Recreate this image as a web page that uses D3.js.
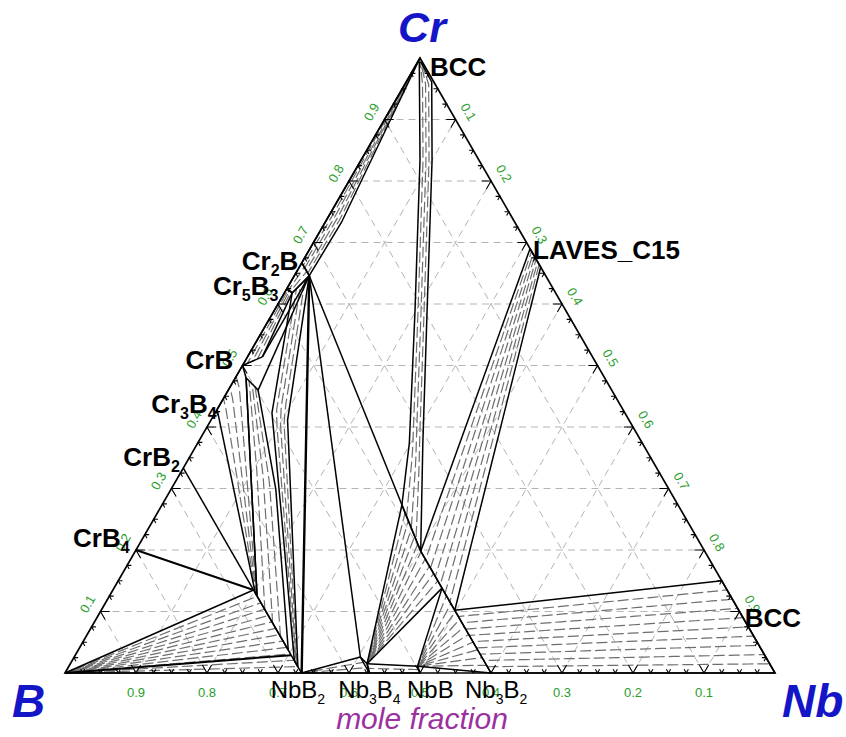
<!DOCTYPE html>
<html>
<head>
<meta charset="utf-8">
<title>Cr-Nb-B section</title>
<script src="https://cdn.jsdelivr.net/npm/d3@7/dist/d3.min.js"></script>
<style>
  body { margin: 0; background: #fff; }
  svg { display: block; font-family: "Liberation Sans", Arial, sans-serif; }
</style>
</head>
<body>
<svg id="chart" width="846" height="737"></svg>
<script>
// every composition is [xCr, xNb]; xB = 1 - xCr - xNb

const gridValues = [0.1, 0.2, 0.3, 0.4, 0.5, 0.6, 0.7, 0.8, 0.9];
const gridLabels = ['0.1', '0.2', '0.3', '0.4', '0.5', '0.6', '0.7', '0.8', '0.9'];
const minorStep = 0.025;

// binary borides on the B-Cr edge (xCr) and on the B-Nb edge (xNb)
const crBorides = ['Cr{2}B', 'Cr{5}B{3}', 'CrB', 'Cr{3}B{4}', 'CrB{2}', 'CrB{4}'];
const crBorideXCr = [0.667, 0.625, 0.5, 0.4286, 0.3333, 0.2];
const nbBorides = ['NbB{2}', 'Nb{3}B{4}', 'NbB', 'Nb{3}B{2}'];
const nbBorideXNb = [0.3333, 0.4286, 0.5, 0.6];

// metal side phases
const metalPhases = ['BCC', 'LAVES_C15', 'BCC'];
const metalPhaseComp = [[1, 0], [0.69, 0.31], [0.15, 0.85]];

// phase boundaries
const crCorner = [1, 0];
const bCorner = [0, 0];
const nbCorner = [0, 1];
const cr2bSS = [0.646, 0.021];
const crBandMid = [0.733, 0.023];
const sliverLeft = [[0.994, 0.002], [0.834, 0.083], [0.590, 0.198], [0.374, 0.298], [0.273, 0.338]];
const sliverRight = [[0.992, 0.006], [0.961, 0.036], [0.834, 0.100], [0.590, 0.215], [0.374, 0.317], [0.198, 0.402]];
const lavesSS = [[0.69, 0.31], [0.66, 0.34]];
const m3b2SS = [[0.198, 0.402], [0.138, 0.462], [0.102, 0.498], [0, 0.6]];
const mb2SS = [[0.135, 0.198], [0.130, 0.203], [0.125, 0.208], [0.037, 0.296], [0.029, 0.304], [0.020, 0.313], [0.010, 0.323], [0, 0.3333]];
const nb3b4SS = [[0.026, 0.403], [0.015, 0.418], [0, 0.4286]];
const nbbSS = [[0.011, 0.491], [0, 0.5]];
const crbInner = [[0.514, 0.021], [0.480, 0.015], [0.460, 0.042], [0.298, 0.148]];
const cr5b3Inner = [[0.618, 0.011], [0.423, 0.080], [0.249, 0.181], [0.411, 0.108]];

const crEdge = crBorideXCr.map(v => [v, 0]);
const nbEdge = nbBorideXNb.map(v => [0, v]);

// two-phase regions: tie lines run between boundary L and boundary R
const bands = [
  { L: [crCorner, crEdge[0]], R: [crCorner, crBandMid, cr2bSS], n: 4 },
  { L: sliverLeft, R: sliverRight, n: 3 },
  { L: [lavesSS[0], m3b2SS[0]], R: [lavesSS[1], m3b2SS[2]], n: 6 },
  { L: [m3b2SS[2], metalPhaseComp[2]], R: [m3b2SS[3], nbCorner], n: 9 },
  { L: [nbEdge[0], nb3b4SS[0]], R: [nbEdge[0], nb3b4SS[2]], n: 2 },
  { L: [nb3b4SS[1], nbbSS[0]], R: [nb3b4SS[2], nbbSS[1]], n: 1 },
  { L: [crEdge[3], mb2SS[1]], R: [crEdge[2], crbInner[1], mb2SS[2]], n: 3 },
  { L: [crbInner[1], mb2SS[2]], R: [crbInner[2], crbInner[3], mb2SS[3]], n: 3 },
  { L: [cr5b3Inner[0], cr5b3Inner[1], cr5b3Inner[2], mb2SS[5]], R: [cr2bSS, cr5b3Inner[3], mb2SS[6]], n: 3 },
  { L: [crEdge[2], crEdge[1]], R: [crbInner[0], cr5b3Inner[0]], n: 3 },
  { L: [crEdge[1], crEdge[0]], R: [cr5b3Inner[0], cr2bSS], n: 2 }
];

// tie-line fans from one phase to a boundary
const fans = [
  { c: bCorner, to: [mb2SS[0], nbEdge[0]], n: 12 },
  { c: nbbSS[0], to: [m3b2SS[1], m3b2SS[3]], n: 10 },
  { c: nb3b4SS[1], to: [sliverLeft[4], m3b2SS[0], m3b2SS[1]], n: 10 }
];

const boundaries = [
  { p: [cr2bSS, nbEdge[0]], w: 2.4 },
  { p: [cr2bSS, nb3b4SS[0]] },
  { p: [cr2bSS, m3b2SS[0]] },
  { p: m3b2SS },
  { p: mb2SS },
  { p: [crEdge[5], mb2SS[0]], w: 2 },
  { p: [crEdge[4], mb2SS[0]] },
  { p: [bCorner, mb2SS[4]], w: 2 },
  { p: nb3b4SS },
  { p: nbbSS },
  { p: [cr2bSS, crbInner[0]] },
  { p: [cr2bSS, crbInner[2]] }
];

// ternary projection through two linear scales
const sx = d3.scaleLinear().domain([0, 1]).range([65, 775]);
const sy = d3.scaleLinear().domain([0, 1]).range([673, 58]);
const P = c => [sx(c[1] + c[0] / 2), sy(c[0])];
const line = d3.line();

function resample(poly, m) {
  const pts = poly.map(P);
  const cum = [0];
  for (let i = 1; i < pts.length; i++) {
    cum.push(cum[i - 1] + Math.hypot(pts[i][0] - pts[i - 1][0], pts[i][1] - pts[i - 1][1]));
  }
  const total = cum[cum.length - 1];
  const out = [];
  for (let k = 0; k <= m; k++) {
    const s = total * k / m;
    let j = 1;
    while (j < pts.length - 1 && cum[j] < s) j++;
    const segLen = (cum[j] - cum[j - 1]) || 1;
    const u = Math.min(1, (s - cum[j - 1]) / segLen);
    out.push([pts[j - 1][0] + (pts[j][0] - pts[j - 1][0]) * u,
              pts[j - 1][1] + (pts[j][1] - pts[j - 1][1]) * u]);
  }
  return out;
}

const svg = d3.select('#chart');

// dashed composition grid
const gGrid = svg.append('g')
  .attr('fill', 'none')
  .attr('stroke', '#b4b4b4')
  .attr('stroke-width', 1)
  .attr('stroke-dasharray', '7,5');
gridValues.forEach(v => {
  [[[v, 0], [v, 1 - v]], [[0, v], [1 - v, v]], [[0, 1 - v], [1 - v, 0]]].forEach(s => {
    gGrid.append('path').attr('d', line(s.map(P)));
  });
});

// tie-line hatching
const gHatch = svg.append('g')
  .attr('fill', 'none')
  .attr('stroke', '#6e6e6e')
  .attr('stroke-width', 1.2)
  .attr('stroke-dasharray', '11,4');
bands.forEach(b => {
  const m = 40;
  const lp = resample(b.L, m);
  const rp = resample(b.R, m);
  for (let k = 1; k <= b.n; k++) {
    const f = k / (b.n + 1);
    const pts = lp.map((a, i) => [a[0] * (1 - f) + rp[i][0] * f, a[1] * (1 - f) + rp[i][1] * f]);
    gHatch.append('path').attr('d', line(pts)).attr('stroke-dashoffset', k * 5);
  }
});
fans.forEach(fn => {
  const c = P(fn.c);
  const tp = resample(fn.to, fn.n + 1);
  for (let k = 1; k <= fn.n; k++) {
    gHatch.append('path').attr('d', line([c, tp[k]])).attr('stroke-dashoffset', k * 3);
  }
});

// phase boundaries
const gLines = svg.append('g')
  .attr('fill', 'none')
  .attr('stroke', '#000')
  .attr('stroke-linejoin', 'round');
bands.forEach(b => {
  gLines.append('path').attr('d', line(b.L.map(P))).attr('stroke-width', 1.5);
  gLines.append('path').attr('d', line(b.R.map(P))).attr('stroke-width', 1.5);
  gLines.append('path').attr('d', line([P(b.L[0]), P(b.R[0])])).attr('stroke-width', 1.5);
  gLines.append('path').attr('d', line([P(b.L[b.L.length - 1]), P(b.R[b.R.length - 1])])).attr('stroke-width', 1.5);
});
fans.forEach(fn => {
  gLines.append('path').attr('d', line([fn.c, fn.to[0]].map(P))).attr('stroke-width', 1.5);
  gLines.append('path').attr('d', line([fn.c, fn.to[fn.to.length - 1]].map(P))).attr('stroke-width', 1.5);
});
boundaries.forEach(b => {
  gLines.append('path').attr('d', line(b.p.map(P))).attr('stroke-width', b.w || 1.5);
});

// triangle frame
svg.append('path')
  .attr('d', line([bCorner, nbCorner, crCorner].map(P)) + 'Z')
  .attr('fill', 'none')
  .attr('stroke', '#000')
  .attr('stroke-width', 1.7);

// edge ticks, arms along the two crossing grid directions
const gTicks = svg.append('g').attr('fill', 'none').attr('stroke', '#000').attr('stroke-width', 1.1);
d3.range(1, Math.round(1 / minorStep)).forEach(i => {
  const t = i * minorStep;
  const d = i % 4 === 0 ? 0.013 : 0.006;
  gTicks.append('path').attr('d', line([[d, t - d], [0, t], [d, t]].map(P)));
  gTicks.append('path').attr('d', line([[t, 1 - t - d], [t, 1 - t], [t - d, 1 - t]].map(P)));
  gTicks.append('path').attr('d', line([[t, d], [t, 0], [t - d, d]].map(P)));
});

// tick labels
const gTickText = svg.append('g')
  .attr('fill', '#2a9d2a')
  .attr('font-size', 13)
  .attr('text-anchor', 'middle')
  .attr('dominant-baseline', 'central');
gridValues.forEach((v, i) => {
  const b = P([0, 1 - v]);
  gTickText.append('text').attr('x', b[0]).attr('y', b[1] + 19).text(gridLabels[i]);
  const r = P([1 - v, v]);
  gTickText.append('text')
    .attr('transform', 'translate(' + (r[0] + 13) + ',' + (r[1] - 7.5) + ') rotate(60)')
    .text(gridLabels[i]);
  const l = P([v, 0]);
  gTickText.append('text')
    .attr('transform', 'translate(' + (l[0] - 13) + ',' + (l[1] - 7.5) + ') rotate(-60)')
    .text(gridLabels[i]);
});

function addLabel(g, str, x, y, size, weight) {
  const t = g.append('text')
    .attr('x', x).attr('y', y)
    .attr('font-size', size)
    .attr('font-weight', weight);
  let sub = false;
  str.split(/(\{[^}]*\})/).filter(s => s).forEach(p => {
    if (p[0] === '{') {
      t.append('tspan').attr('dy', 6).attr('font-size', Math.round(size * 0.6)).text(p.slice(1, -1));
      sub = true;
    } else {
      const ts = t.append('tspan').text(p);
      if (sub) { ts.attr('dy', -6); sub = false; }
    }
  });
}

// phase labels
const gPhase = svg.append('g').attr('fill', '#000');
const crLabelOffset = [[-60, 7], [-74, 6], [-57, 3], [-66, 4], [-60, -2], [-63, -3]];
crBorides.forEach((name, i) => {
  const p = P(crEdge[i]);
  addLabel(gPhase, name, p[0] + crLabelOffset[i][0], p[1] + crLabelOffset[i][1], 26, 'bold');
});
const nbLabelOffset = [-31, -31, -13, -26];
nbBorides.forEach((name, i) => {
  const p = P(nbEdge[i]);
  addLabel(gPhase, name, p[0] + nbLabelOffset[i], p[1] + 25, 24, 'normal');
});
const metalLabelOffset = [[10, 18], [3, 10], [23, 46]];
metalPhases.forEach((name, i) => {
  const p = P(metalPhaseComp[i]);
  addLabel(gPhase, name, p[0] + metalLabelOffset[i][0], p[1] + metalLabelOffset[i][1], 26, 'bold');
});

// component names and axis title
const gTitle = svg.append('g')
  .attr('fill', '#1515c8')
  .attr('font-weight', 'bold')
  .attr('font-style', 'italic');
gTitle.append('text').attr('x', 422).attr('y', 42).attr('font-size', 43).attr('text-anchor', 'middle').text('Cr');
gTitle.append('text').attr('x', 12).attr('y', 717).attr('font-size', 46).text('B');
gTitle.append('text').attr('x', 782).attr('y', 717).attr('font-size', 46).text('Nb');

svg.append('text')
  .attr('x', 422).attr('y', 729)
  .attr('font-size', 30)
  .attr('font-style', 'italic')
  .attr('text-anchor', 'middle')
  .attr('fill', '#9b30a0')
  .text('mole fraction');
</script>
</body>
</html>
